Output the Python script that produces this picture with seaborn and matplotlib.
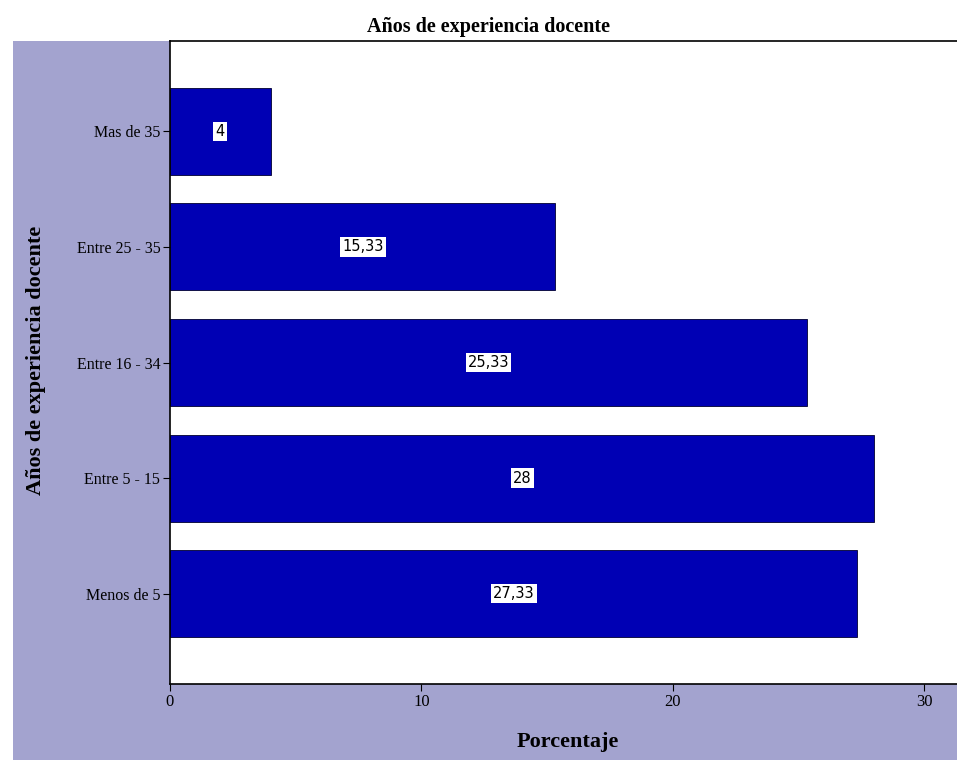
import matplotlib
matplotlib.use("Agg")
import matplotlib.pyplot as plt
from matplotlib.patches import Rectangle
import seaborn as sns
import pandas as pd

categorias = ["Mas de 35", "Entre 25 - 35", "Entre 16 - 34", "Entre 5 - 15", "Menos de 5"]
porcentajes = [4, 15.33, 25.33, 28, 27.33]
etiquetas = ["4", "15,33", "25,33", "28", "27,33"]
xticks = [0, 10, 20, 30]

sns.set_theme(style="white")
plt.rcParams["font.family"] = ["Liberation Serif", "DejaVu Serif"]
plt.rcParams["text.color"] = "black"
plt.rcParams["xtick.color"] = "black"
plt.rcParams["ytick.color"] = "black"
plt.rcParams["axes.labelcolor"] = "black"

df = pd.DataFrame({"cat": categorias, "pct": porcentajes})

W, H = 957, 762
fig = plt.figure(figsize=(W / 100, H / 100), dpi=100)
fig.patch.set_facecolor("white")

# lavender panel behind the plot area
fig.add_artist(Rectangle((13 / W, 1 - 760 / H), (W - 13) / W, (760 - 41) / H,
                         transform=fig.transFigure, facecolor="#a3a3cf",
                         edgecolor="none", zorder=0))

ax = fig.add_axes([170 / W, 1 - 684 / H, (W - 170) / W, (684 - 41) / H])
ax.set_zorder(1)
ax.set_facecolor("white")

sns.barplot(data=df, x="pct", y="cat", orient="h", color="#0000b4",
            saturation=1, width=0.75, edgecolor="#000030", linewidth=0.6, ax=ax)

for i, (v, t) in enumerate(zip(porcentajes, etiquetas)):
    ax.text(v / 2, i, t, ha="center", va="center", fontsize=10.5,
            family=["DejaVu Sans"], color="black",
            bbox=dict(boxstyle="square,pad=0.15", facecolor="white", edgecolor="none"))

ax.set_xlim(0, 31.3)
ax.set_ylim(4.78, -0.78)
ax.set_xticks(xticks)
ax.set_xticklabels([str(x) for x in xticks], fontsize=12)
ax.tick_params(axis="both", which="both", direction="out", length=5, width=0.8,
               color="black", labelcolor="black", labelsize=12, pad=2,
               bottom=True, left=True)
for lbl in ax.get_yticklabels():
    lbl.set_fontsize(11.5)

for s in ["left", "top", "bottom"]:
    ax.spines[s].set_visible(True)
    ax.spines[s].set_color("black")
    ax.spines[s].set_linewidth(1.2)
ax.spines["right"].set_visible(False)

ax.set_xlabel("")
ax.set_ylabel("")
fig.text(568 / W, 1 - 742 / H, "Porcentaje", ha="center", va="center",
         fontsize=16, fontweight="bold", color="black")
fig.text(36 / W, 1 - 360 / H, "Años de experiencia docente", ha="center", va="center",
         rotation=90, fontsize=16, fontweight="bold", color="black")
fig.text(488 / W, 1 - 27 / H, "Años de experiencia docente", ha="center", va="center",
         fontsize=14.5, fontweight="bold", color="black")

fig.savefig("out.png", dpi=100)
